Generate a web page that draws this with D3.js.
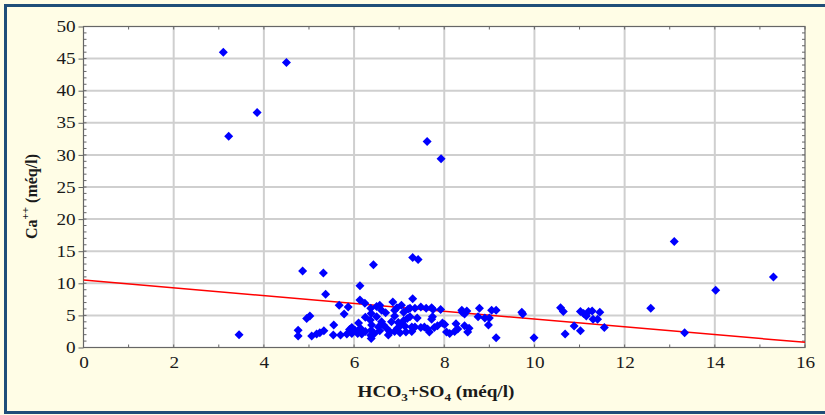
<!DOCTYPE html>
<html>
<head>
<meta charset="utf-8">
<script src="https://cdn.jsdelivr.net/npm/d3@7"></script>
<style>
  html, body { margin: 0; padding: 0; background: #fff; }
  svg { display: block; }
</style>
</head>
<body>
<script>
// HCO3+SO4 (x) vs Ca++ (y), meq/l
const xVals = [
  3.10, 3.22, 3.85, 4.50, 3.45, 7.62, 7.93, 13.10, 14.02, 15.30, 13.33, 12.58, 9.99, 9.15,
  4.86, 5.32, 5.37, 4.76, 4.76, 4.95, 5.02, 5.06, 5.17, 5.24, 5.33, 5.55, 5.54, 5.70,
  5.67, 5.78, 5.87, 5.84, 5.95, 5.95, 6.02, 6.08, 6.10, 6.14, 6.17, 6.13, 6.13, 6.24,
  6.37, 6.38, 6.36, 6.39, 6.38, 6.37, 6.38, 6.43, 6.57, 6.61, 6.50, 6.61, 6.54, 6.57,
  6.72, 6.76, 6.83, 6.86, 6.90, 6.90, 6.98, 6.96, 7.02, 6.90, 7.10, 7.10, 7.13, 7.15,
  7.18, 7.20, 7.30, 7.42, 7.30,
  7.24, 7.35, 7.48, 7.60, 7.72, 7.75, 7.92, 7.24, 7.74, 7.72,
  7.28, 7.28, 7.35, 7.48, 7.56, 7.63, 7.67, 7.78, 7.85, 7.96, 8.01, 8.05, 8.12, 8.23,
  8.30, 8.26, 8.45, 8.52, 8.55, 8.39, 8.50, 8.40, 8.45, 8.78, 8.75, 8.90, 9.00, 8.98,
  9.05, 9.15, 9.72, 9.74,
  10.58, 10.64, 10.68, 10.88, 11.02, 11.02, 11.09, 11.15, 11.20, 11.28, 11.30, 11.40, 11.45, 11.55,
  6.25, 6.45, 6.65, 6.80, 7.05, 6.95, 7.05, 6.50, 6.70, 7.40, 5.90, 6.25
];
const yVals = [
  46.0, 32.9, 36.6, 44.4, 2.0, 32.1, 29.4, 16.5, 8.9, 11.0, 2.3, 6.1, 1.5, 1.5,
  11.9, 11.6, 8.3, 2.7, 1.8, 4.5, 4.9, 1.8, 2.1, 2.3, 2.6, 3.5, 1.95, 1.95,
  6.6, 5.2, 6.3, 2.1, 3.1, 2.2, 2.7, 2.2, 3.8, 3.0, 2.1, 9.6, 7.4, 6.9,
  6.1, 5.3, 4.3, 3.5, 2.7, 1.9, 1.4, 12.9, 6.6, 5.8, 4.8, 4.0, 3.2, 2.6,
  3.0, 1.95, 4.0, 7.1, 5.8, 4.9, 3.9, 3.0, 2.3, 2.5, 5.5, 4.2, 3.3, 2.4,
  4.5, 6.0, 14.0, 13.7, 7.6,
  6.1, 6.1, 6.3, 6.1, 6.2, 5.9, 5.9, 4.8, 4.8, 4.4,
  3.2, 2.5, 3.2, 3.1, 3.2, 2.9, 2.4, 3.1, 3.4, 3.8, 3.6, 2.4, 2.2, 2.5,
  2.9, 3.7, 3.4, 2.4, 3.0, 5.8, 5.7, 5.5, 5.2, 6.1, 4.8, 4.6, 4.6, 3.5,
  5.8, 5.8, 5.5, 5.2,
  6.2, 5.6, 2.1, 3.35, 2.6, 5.6, 5.3, 4.9, 5.6, 5.7, 4.4, 4.4, 5.5, 3.1,
  2.5, 2.2, 3.5, 2.4, 3.6, 6.2, 6.6, 6.4, 5.4, 4.6, 2.8, 4.7
];
const trendX = [0, 16];
const trendY = [10.5, 0.8];
const xTicks = [0, 2, 4, 6, 8, 10, 12, 14, 16];
const yTicks = [0, 5, 10, 15, 20, 25, 30, 35, 40, 45, 50];

const W = 825, H = 415;
const plot = { left: 83.5, right: 805, top: 26.5, bottom: 347.5 };
const serif = "'Liberation Serif', 'Times New Roman', serif";
const stretch = 'scale(1.2,1)'; // the original image is widened

const svg = d3.select('body').append('svg')
  .attr('width', W)
  .attr('height', H);

// cream panel with blue frame
svg.append('rect')
  .attr('x', 0).attr('y', 0).attr('width', W).attr('height', H)
  .attr('fill', '#fffde6');
svg.append('rect')
  .attr('x', 5.5).attr('y', 5.5).attr('width', W + 10).attr('height', H - 8)
  .attr('fill', 'none')
  .attr('stroke', '#1f4e79')
  .attr('stroke-width', 3);

const x = d3.scaleLinear().domain([0, 16]).range([plot.left, plot.right]);
const y = d3.scaleLinear().domain([0, 50]).range([plot.bottom, plot.top]);

svg.append('rect')
  .attr('x', plot.left).attr('y', plot.top)
  .attr('width', plot.right - plot.left).attr('height', plot.bottom - plot.top)
  .attr('fill', '#fff');

// grid
const grid = svg.append('g').attr('stroke', '#cfcfcf').attr('stroke-width', 2);
grid.selectAll('.vg').data(xTicks.slice(1, -1)).join('line')
  .attr('x1', d => x(d)).attr('x2', d => x(d))
  .attr('y1', plot.top).attr('y2', plot.bottom);
grid.selectAll('.hg').data(yTicks.slice(1, -1)).join('line')
  .attr('y1', d => y(d)).attr('y2', d => y(d))
  .attr('x1', plot.left).attr('x2', plot.right);

// minor ticks, inward on all four sides
const xMinor = d3.range(0, 17, 1);
const yMinor = d3.range(0, 51, 1);
const minor = svg.append('g').attr('stroke', '#666').attr('stroke-width', 1);
minor.selectAll('.xb').data(xMinor).join('line')
  .attr('x1', d => x(d)).attr('x2', d => x(d))
  .attr('y1', plot.bottom).attr('y2', plot.bottom - 3);
minor.selectAll('.xt').data(xMinor).join('line')
  .attr('x1', d => x(d)).attr('x2', d => x(d))
  .attr('y1', plot.top).attr('y2', plot.top + 3);
minor.selectAll('.yl').data(yMinor).join('line')
  .attr('y1', d => y(d)).attr('y2', d => y(d))
  .attr('x1', plot.left).attr('x2', plot.left + 3);
minor.selectAll('.yr').data(yMinor).join('line')
  .attr('y1', d => y(d)).attr('y2', d => y(d))
  .attr('x1', plot.right).attr('x2', plot.right - 3);

// axes
const xAxis = svg.append('g')
  .attr('transform', `translate(0,${plot.bottom})`)
  .call(d3.axisBottom(x).tickValues(xTicks).tickSize(0).tickPadding(9));
const yAxis = svg.append('g')
  .attr('transform', `translate(${plot.left},0)`)
  .call(d3.axisLeft(y).tickValues(yTicks).tickSize(5).tickPadding(1.5));
[xAxis, yAxis].forEach(a => {
  a.attr('font-family', serif).attr('font-size', 16);
  a.select('.domain').remove();
  a.selectAll('text').attr('fill', '#1a1a1a').attr('transform', stretch);
  a.selectAll('line').attr('stroke', '#666');
});

svg.append('rect')
  .attr('x', plot.left).attr('y', plot.top)
  .attr('width', plot.right - plot.left).attr('height', plot.bottom - plot.top)
  .attr('fill', 'none')
  .attr('stroke', '#666')
  .attr('stroke-width', 1.2);

// trend line
svg.append('line')
  .attr('x1', x(trendX[0])).attr('y1', y(trendY[0]))
  .attr('x2', x(trendX[1])).attr('y2', y(trendY[1]))
  .attr('stroke', '#ff0000')
  .attr('stroke-width', 1.5);

// points
const pts = xVals.map((v, i) => [v, yVals[i]]);
svg.append('g').selectAll('path').data(pts).join('path')
  .attr('d', 'M0,-4.5L4.5,0L0,4.5L-4.5,0Z')
  .attr('transform', d => `translate(${x(d[0])},${y(d[1])})`)
  .attr('fill', '#0000ff');

// axis titles
const xt = svg.append('g')
  .attr('transform', `translate(436,397) ${stretch}`)
  .append('text')
  .attr('text-anchor', 'middle')
  .attr('font-family', serif)
  .attr('font-size', 16)
  .attr('font-weight', 'bold')
  .attr('fill', '#1a1a1a');
xt.append('tspan').text('HCO');
xt.append('tspan').attr('dy', 4).attr('font-size', 11).text('3');
xt.append('tspan').attr('dy', -4).text('+SO');
xt.append('tspan').attr('dy', 4).attr('font-size', 11).text('4');
xt.append('tspan').attr('dy', -4).text(' (méq/l)');

const yt = svg.append('text')
  .attr('transform', `translate(37,239) rotate(-90)`)
  .attr('text-anchor', 'start')
  .attr('font-family', serif)
  .attr('font-size', 16)
  .attr('font-weight', 'bold')
  .attr('fill', '#1a1a1a');
yt.append('tspan').text('Ca');
yt.append('tspan').attr('dy', -8).attr('font-size', 11).text('++');
yt.append('tspan').attr('dy', 8).text(' (méq/l)');
</script>
</body>
</html>
